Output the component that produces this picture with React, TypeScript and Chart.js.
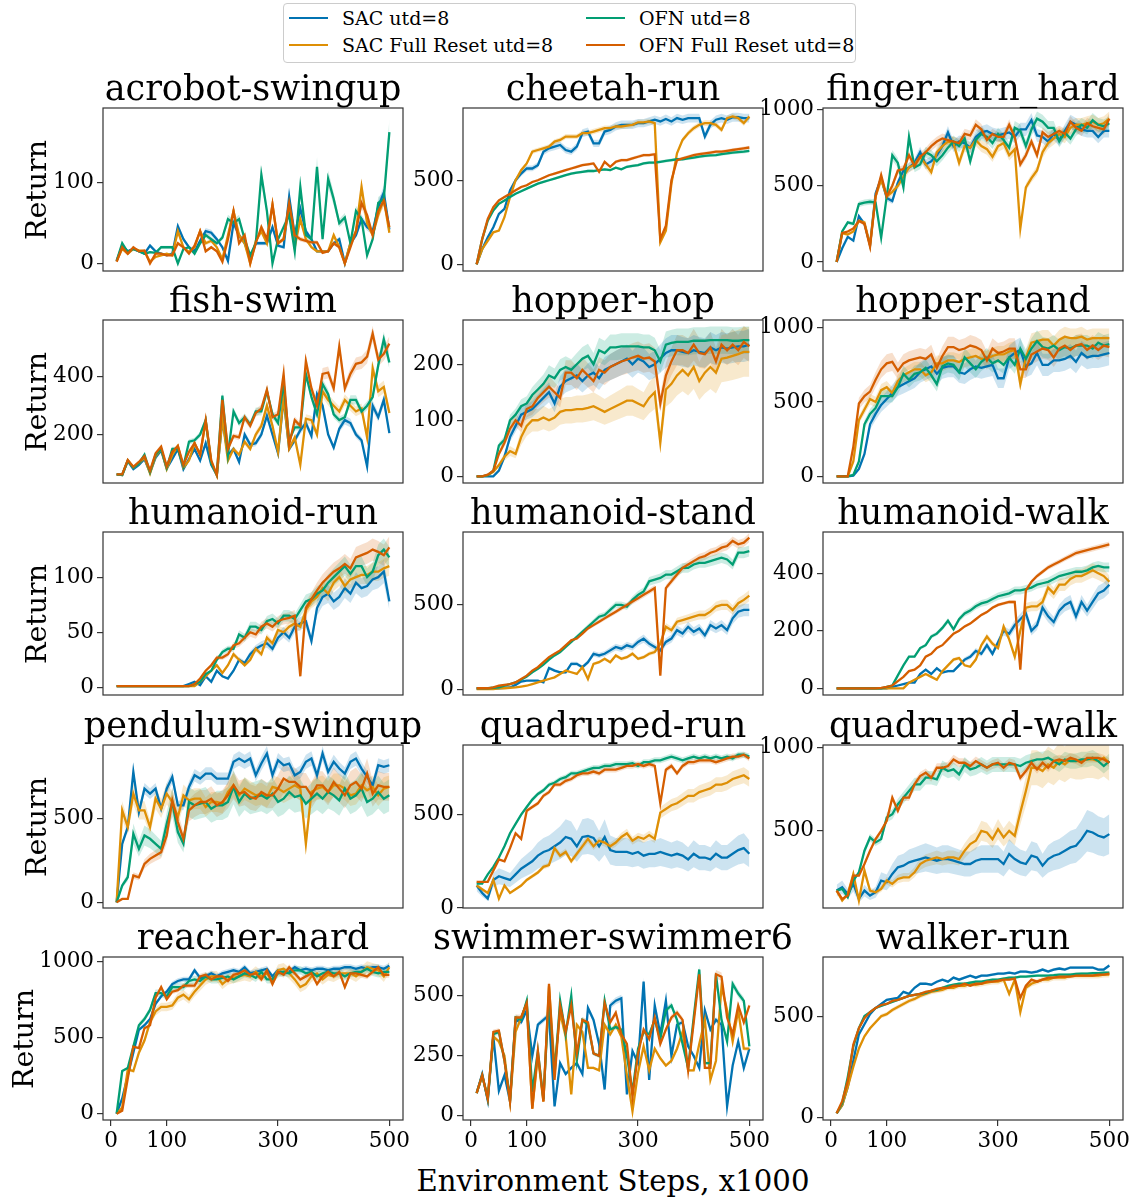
import React, { useEffect, useRef } from "react";
import { Chart, registerables } from "chart.js";
Chart.register(...registerables);

// ---------- data ----------
const STEPS = [10,20,30,40,50,60,70,80,90,100,110,120,130,140,150,160,170,180,190,200,210,220,230,240,250,260,270,280,290,300,310,320,330,340,350,360,370,380,390,400,410,420,430,440,450,460,470,480,490,500];
const X_TICKS = [0, 100, 300, 500];
const SERIES_LABELS = ["SAC utd=8", "SAC Full Reset utd=8", "OFN utd=8", "OFN Full Reset utd=8"];

const acrobotSAC = [3,22,15,18,15,12,22,15,12,10, 12,46,30,20,15,28,40,38,30,20, 3,50,35,25,5,25,25,25,45,22, 20,83,35,68,40,30,15,15,15,25, 30,0,25,35,55,45,40,70,88,42];
const acrobotSACReset = [3,18,12,18,16,15,2,8,10,12, 10,40,20,14,20,40,25,28,20,5, 35,65,35,25,0,28,40,25,73,25, 30,70,20,55,30,20,15,15,15,35, 20,0,25,40,95,50,35,60,80,38];
const acrobotOFN = [3,25,14,18,15,12,14,13,20,20, 20,0,18,20,12,25,35,30,25,32, 55,50,55,30,10,25,110,65,0,30, 45,60,15,95,35,30,120,30,105,80, 50,57,25,65,55,10,30,75,80,163];
const acrobotOFNReset = [2,20,12,20,15,16,0,12,12,10, 10,25,20,12,22,40,15,20,15,2, 30,65,25,35,0,25,45,30,73,25, 30,75,35,30,28,26,26,13,15,25, 20,0,20,40,75,60,35,65,78,45];

const cheetahSAC = [0,90,160,220,300,330,440,500,540,570, 570,590,670,690,700,710,680,670,700,780, 790,720,720,790,800,820,830,830,830,840, 840,850,860,850,865,850,870,860,870,870, 870,760,830,860,870,860,875,875,870,870];
const cheetahSACReset = [0,90,140,190,200,280,400,500,560,600, 670,680,690,700,730,740,760,760,760,780, 780,790,800,810,810,820,820,825,830,845, 845,850,840,130,200,480,660,740,780,810, 830,840,840,830,800,870,880,870,840,880];
const cheetahOFN = [0,150,260,320,360,380,400,420,435,450, 465,480,490,500,510,520,530,540,545,550, 555,555,560,565,560,575,565,580,585,590, 600,605,605,610,615,620,625,625,630,635, 640,645,648,650,655,660,665,668,670,675];
const cheetahOFNReset = [0,150,270,340,380,400,420,440,460,470, 490,500,515,530,540,550,560,570,580,590, 595,600,550,610,580,610,620,620,630,640, 650,650,655,150,230,500,620,630,640,650, 655,660,665,670,670,675,680,685,690,695];

const fingerSAC = [0,90,165,140,300,250,110,450,550,420, 400,520,600,620,650,720,640,660,700,760, 850,760,790,780,750,820,850,860,840,830, 840,850,820,870,870,930,830,820,790,840, 800,860,920,900,870,860,860,820,860,860];
const fingerSACReset = [0,190,180,200,270,260,110,430,540,430, 460,500,560,620,640,690,640,590,720,760, 790,780,650,760,750,800,760,740,690,760, 780,700,740,220,490,550,600,720,780,810, 840,820,880,900,900,910,920,900,910,940];
const fingerOFN = [0,200,260,250,380,390,395,390,160,430, 700,650,490,820,620,640,720,700,660,700, 750,790,760,810,660,800,840,820,780,840, 800,750,880,860,760,870,940,920,880,880, 790,850,810,870,900,880,930,900,890,910];
const fingerOFNReset = [0,190,200,220,270,250,100,430,570,430, 500,600,610,700,630,690,720,760,790,810, 800,790,780,840,830,900,870,800,840,820, 820,900,820,640,700,790,700,850,820,840, 860,840,920,880,860,910,890,880,870,940];

const fishSAC = [62,60,108,80,95,115,68,120,145,82, 115,150,80,115,150,110,170,95,60,250, 130,150,105,200,165,170,200,265,200,135, 325,150,180,215,240,195,340,300,200,155, 220,250,240,200,180,90,300,260,320,205];
const fishSACReset = [62,60,110,85,100,120,65,125,150,80, 130,160,85,110,170,130,245,105,58,255, 110,150,130,175,150,200,230,300,230,140, 330,150,190,95,255,250,200,350,320,300, 280,320,300,280,290,190,430,350,365,275];
const fishOFN = [62,60,110,85,100,130,70,130,150,85, 150,150,90,175,180,200,250,100,60,335, 130,280,240,260,235,280,280,350,270,240, 380,180,225,225,410,330,270,375,340,270, 250,260,320,320,280,300,330,440,530,450];
const fishOFNReset = [62,62,112,88,105,125,75,135,158,90, 140,160,95,140,170,130,250,110,60,320, 150,195,190,260,230,275,290,355,260,270, 410,165,250,230,455,360,300,410,415,360, 505,360,410,445,450,470,550,460,480,515];

const hopHopSAC = [0,0,0,0,10,35,70,90,110,115, 120,130,140,150,130,160,170,175,180,170, 180,185,175,190,195,200,205,210,200,210, 205,195,200,210,220,225,225,222,220,225, 222,220,230,225,230,228,230,232,232,235];
const hopHopSACReset = [0,0,2,8,20,35,45,40,70,90, 100,100,105,100,105,115,118,118,120,120, 122,125,120,115,120,125,130,135,135,130, 125,140,150,60,155,165,180,190,180,195, 170,185,195,185,210,212,215,218,222,222];
const hopHopOFN = [0,0,2,10,55,65,100,110,125,130, 145,155,165,180,175,190,195,190,200,210, 215,200,225,220,230,230,232,232,232,232, 230,230,225,205,235,238,240,240,240,242, 242,242,243,243,243,243,242,242,243,243];
const hopHopOFNReset = [0,0,3,10,40,60,85,100,90,120, 125,140,150,160,150,140,185,185,175,190, 180,170,190,185,195,200,205,208,212,215, 210,212,205,130,180,205,225,225,220,235, 220,218,230,205,235,225,235,225,240,232];

const hopStandSAC = [0,0,0,5,50,150,350,420,480,520, 560,600,620,640,660,700,720,740,690,730, 740,740,700,690,720,740,730,740,750,660, 660,800,830,850,740,760,830,750,750,780, 780,790,810,770,830,800,810,810,820,830];
const hopStandSACReset = [0,0,0,100,380,450,520,500,580,600, 560,640,680,700,720,720,680,700,760,760, 780,780,770,790,800,810,790,790,810,820, 820,840,850,620,800,900,910,920,920,880, 920,940,930,930,940,920,930,930,930,930];
const hopStandOFN = [0,0,0,10,100,350,420,460,540,540, 540,600,690,650,690,700,730,680,620,740, 760,750,700,800,760,720,770,800,760,780, 750,800,750,860,790,860,910,870,860,880, 850,870,860,880,880,880,860,900,880,890];
const hopStandOFNReset = [0,0,0,200,490,540,570,650,720,760, 770,710,760,780,790,800,790,820,730,810, 870,870,850,860,880,870,850,780,860,830, 840,860,860,720,720,820,840,860,850,800, 860,880,850,880,890,850,880,850,880,870];

const humRunSAC = [1,1,1,1,1,1,1,1,1,1, 1,1,1,3,5,2,10,5,15,10, 8,15,25,22,30,35,38,40,35,45, 50,45,55,58,60,42,72,82,85,78, 82,90,85,95,90,92,98,100,105,78];
const humRunSACReset = [1,1,1,1,1,1,1,1,1,1, 1,1,1,1,1,5,10,15,20,13, 20,30,25,20,25,35,30,45,40,52, 50,55,58,55,70,78,82,90,85,95, 100,92,98,100,102,102,105,105,108,110];
const humRunOFN = [1,1,1,1,1,1,1,1,1,1, 1,1,1,1,3,5,12,15,25,32, 35,35,48,45,55,55,52,60,62,58, 65,65,62,70,78,80,85,88,95,100, 105,110,103,110,110,100,105,120,125,118];
const humRunOFNReset = [1,1,1,1,1,1,1,1,1,1, 1,1,1,1,3,8,15,20,27,27, 30,38,40,45,50,48,55,58,55,60, 62,63,65,10,72,80,88,95,100,105, 108,112,108,118,120,122,125,123,120,127];

const humStandSAC = [5,5,5,5,5,8,10,25,45,50, 50,50,40,125,110,100,100,150,150,130, 160,210,200,210,230,250,240,260,250,280, 300,270,250,230,280,300,350,330,370,340, 360,320,380,360,380,350,420,460,470,470];
const humStandSACReset = [0,0,0,0,5,5,8,10,15,20, 30,40,50,60,70,90,110,100,90,130, 60,150,160,180,160,200,180,190,210,180, 190,210,220,270,370,350,400,410,420,430, 440,440,460,490,500,500,470,510,530,555];
const humStandOFN = [5,5,5,8,10,20,30,40,55,75, 100,120,145,175,200,220,250,280,310,340, 370,400,430,440,470,500,500,490,530,560, 580,640,650,660,680,680,700,720,720,740, 750,750,760,770,780,770,740,810,810,820];
const humStandOFNReset = [5,5,5,10,20,25,30,40,60,80, 110,130,160,190,210,230,260,290,300,330, 360,380,400,420,440,460,480,500,520,540, 560,580,600,80,600,640,680,720,740,760, 780,790,810,820,840,850,880,860,870,900];

const humWalkSAC = [0,0,0,0,0,0,0,0,0,0, 5,10,15,20,20,50,65,50,70,55, 60,60,80,100,110,130,120,150,120,160, 200,190,220,240,260,200,220,280,250,230, 270,290,300,250,300,270,300,330,340,360];
const humWalkSACReset = [0,0,0,0,0,0,0,0,0,0, 0,0,0,20,30,40,50,40,30,60, 80,100,105,80,75,100,150,180,155,140, 215,170,110,200,280,285,285,300,350,330, 360,360,380,390,390,400,410,400,390,370];
const humWalkOFN = [0,0,0,0,0,0,0,0,0,5, 10,45,80,110,110,140,150,180,190,210, 235,205,240,260,270,285,295,300,310,320, 325,330,340,340,345,350,360,365,370,380, 390,395,400,405,405,410,420,425,420,420];
const humWalkOFNReset = [0,0,0,0,0,0,0,0,2,5, 10,25,40,60,65,80,110,120,140,150, 170,190,200,215,225,240,255,265,280,290, 295,300,300,65,340,370,390,405,420,430, 440,450,460,470,475,480,485,490,495,500];

const pendSAC = [0,350,450,780,540,680,650,680,560,680, 750,580,580,690,760,740,770,770,740,740, 740,840,860,840,860,760,830,890,760,850, 820,830,760,780,840,860,760,890,780,840, 800,770,840,860,800,750,700,820,810,820];
const pendSACReset = [0,550,450,650,550,550,450,620,560,650, 600,510,640,610,620,620,570,600,600,590, 660,700,640,680,660,640,650,630,690,680, 660,680,700,680,350,660,680,690,660,700, 700,680,640,650,700,670,690,640,680,690];
const pendOFN = [0,100,150,410,320,400,380,350,320,470, 600,420,350,600,580,590,600,560,580,580, 600,690,600,650,620,630,640,620,650,600, 620,660,630,640,590,620,650,620,660,640, 610,680,620,640,680,600,620,660,620,640];
const pendOFNReset = [0,20,20,160,150,230,260,280,300,400, 610,480,380,550,580,600,600,620,580,600, 640,700,650,660,630,620,660,640,640,680, 740,720,720,690,690,640,700,700,660,720, 680,640,700,720,680,770,650,700,690,690];

const quadRunSAC = [120,80,50,150,170,160,150,180,210,230, 250,280,300,310,330,350,380,370,330,380, 385,375,330,380,310,300,300,300,290,300, 280,290,290,300,290,280,290,280,260,290, 270,270,260,290,270,270,290,310,320,290];
const quadRunSACReset = [120,100,80,150,50,120,80,100,120,150, 170,190,220,230,320,280,300,250,290,330, 370,330,360,350,330,350,380,400,360,380, 370,390,370,510,530,550,560,580,600,600, 620,630,640,660,660,670,690,700,710,690];
const quadRunOFN = [130,130,180,220,270,330,400,450,500,540, 580,610,630,660,670,690,700,720,720,730, 740,750,750,760,760,770,770,770,775,760, 780,780,790,790,800,810,800,790,800,810, 800,810,800,810,800,810,800,820,820,810];
const quadRunOFNReset = [140,140,140,200,260,250,320,400,370,520, 540,560,600,620,660,660,680,690,710,720, 720,730,720,740,740,740,750,760,760,770, 760,770,760,560,740,760,720,760,780,780, 790,790,790,780,790,800,810,810,820,800];

const quadWalkSAC = [140,160,120,180,90,140,110,130,200,190, 240,280,290,310,320,330,340,330,320,330, 330,320,310,300,300,320,330,330,330,330, 300,360,330,310,300,350,340,290,330,350, 360,380,400,410,450,500,490,470,460,480];
const quadWalkSACReset = [140,80,120,240,80,260,140,130,150,200, 180,210,220,220,250,300,320,330,340,330, 340,340,330,380,420,440,500,490,450,510, 460,500,470,610,740,880,880,860,900,880, 920,900,930,920,920,930,930,920,940,910];
const quadWalkOFN = [140,150,100,200,250,380,460,430,450,580, 600,660,700,740,780,780,820,820,810,880, 860,870,840,900,870,880,900,880,900,900, 900,900,900,890,910,920,930,930,940,920, 900,930,920,920,930,930,940,920,890,920];
const quadWalkOFNReset = [140,90,110,230,230,300,380,450,500,560, 700,620,700,700,780,830,850,820,880,880, 890,930,910,910,890,920,900,880,900,910, 880,910,900,820,860,910,870,910,880,920, 930,920,940,930,910,940,940,940,930,910];

const reacherSAC = [0,100,250,400,550,580,620,720,770,800, 850,870,880,880,940,890,900,920,900,920, 930,940,930,960,920,930,940,950,900,940, 920,930,960,940,950,940,950,950,940,950, 950,960,960,950,960,950,960,960,950,970];
const reacherSACReset = [0,40,290,280,400,480,600,670,700,700, 710,760,780,750,800,840,880,900,900,850, 880,890,900,910,900,930,900,920,870,940, 950,920,880,830,850,900,920,880,910,900, 920,920,920,900,930,960,950,940,900,960];
const reacherOFN = [0,280,300,440,580,620,680,790,790,770, 830,830,830,870,880,870,900,880,880,890, 900,880,900,920,910,890,930,880,880,920, 930,920,940,940,920,930,900,920,930,920, 920,900,920,930,930,950,930,920,930,930];
const reacherOFNReset = [0,20,230,440,430,560,580,760,830,750, 800,810,840,840,840,900,910,880,900,900, 870,910,920,940,910,920,880,940,850,930, 910,960,920,880,900,920,850,900,930,900, 930,830,920,920,910,900,930,960,910,910];

const swimmerSAC = [95,175,65,330,105,170,60,400,390,440, 250,380,400,420,40,220,175,200,220,175, 450,400,300,110,460,480,490,90,270,220, 560,150,460,340,480,250,380,390,290,250, 200,440,360,400,380,40,210,310,200,280];
const swimmerSACReset = [95,165,80,330,310,250,60,350,410,470, 30,250,60,540,200,430,330,90,380,350, 200,200,190,380,340,380,330,170,20,180, 290,190,280,240,210,230,280,350,190,190, 300,400,150,230,540,440,310,440,280,280];
const swimmerOFN = [95,170,70,340,350,230,70,410,400,480, 100,270,70,500,170,480,340,500,230,400, 380,260,250,480,360,370,360,250,100,280, 350,340,400,320,440,460,400,300,200,410, 610,220,220,590,400,310,550,510,480,290];
const swimmerOFNReset = [95,170,70,350,355,230,60,410,410,470, 30,270,60,550,150,460,350,460,260,400, 390,260,250,470,390,430,340,300,80,260, 360,320,410,300,360,410,430,400,190,390, 590,200,200,590,580,410,340,460,390,460];

const walkerSAC = [20,60,150,280,410,460,510,540,560,580, 585,590,620,610,640,660,660,655,670,680, 670,690,680,690,700,690,700,700,705,710, 710,715,710,720,720,715,720,730,720,730, 735,730,740,740,740,740,740,730,730,750];
const walkerSACReset = [20,60,150,250,340,400,440,470,500,510, 530,545,560,575,585,600,610,620,625,630, 640,640,650,650,660,655,660,665,670,670, 680,610,680,520,640,660,670,680,680,690, 690,690,700,700,700,700,700,700,705,705];
const walkerOFN = [20,70,200,350,440,500,520,540,550,560, 570,580,590,600,605,610,615,625,630,640, 650,655,660,660,665,670,670,675,680,680, 685,690,690,695,695,698,700,700,700,702, 705,705,705,708,710,710,712,712,715,715];
const walkerOFNReset = [20,80,180,360,440,490,520,540,555,560, 575,580,590,600,605,610,620,625,635,640, 640,650,650,660,650,660,660,670,670,675, 680,680,685,590,650,680,670,680,690,690, 695,695,695,700,700,700,700,705,705,710];

// relative spread (std / mean) for the shaded bands: SAC, SAC reset, OFN, OFN reset
const acrobotSpread = [0.1, 0.1, 0.1, 0.1];
const cheetahSpread = [0.03, 0.02, 0.015, 0.015];
const fingerSpread = [0.05, 0.05, 0.05, 0.04];
const fishSpread = [0.06, 0.06, 0.05, 0.05];
const hopHopSpread = [0.12, 0.2, 0.1, 0.12];
const hopStandSpread = [0.1, 0.07, 0.08, 0.08];
const humRunSpread = [0.1, 0.08, 0.08, 0.08];
const humStandSpread = [0.08, 0.06, 0.04, 0.03];
const humWalkSpread = [0.08, 0.06, 0.04, 0.02];
const pendSpread = [0.05, 0.1, 0.15, 0.12];
const quadRunSpread = [0.25, 0.06, 0.02, 0.02];
const quadWalkSpread = [0.25, 0.12, 0.05, 0.03];
const reacherSpread = [0.02, 0.04, 0.03, 0.02];
const swimmerSpread = [0.03, 0.03, 0.03, 0.03];
const walkerSpread = [0.01, 0.02, 0.01, 0.01];

type PanelCfg = {
  title: string; row: number; col: number;
  ymin: number; ymax: number; yticks: number[];
  series: number[][]; spread: number[];
};

const PANELS: PanelCfg[] = [
  { title: "acrobot-swingup", row: 0, col: 0, ymin: -9.5, ymax: 193, yticks: [0, 100], series: [acrobotSAC, acrobotSACReset, acrobotOFN, acrobotOFNReset], spread: acrobotSpread },
  { title: "cheetah-run", row: 0, col: 1, ymin: -40, ymax: 930, yticks: [0, 500], series: [cheetahSAC, cheetahSACReset, cheetahOFN, cheetahOFNReset], spread: cheetahSpread },
  { title: "finger-turn_hard", row: 0, col: 2, ymin: -59, ymax: 1010, yticks: [0, 500, 1000], series: [fingerSAC, fingerSACReset, fingerOFN, fingerOFNReset], spread: fingerSpread },
  { title: "fish-swim", row: 1, col: 0, ymin: 32, ymax: 597, yticks: [200, 400], series: [fishSAC, fishSACReset, fishOFN, fishOFNReset], spread: fishSpread },
  { title: "hopper-hop", row: 1, col: 1, ymin: -12, ymax: 279, yticks: [0, 100, 200], series: [hopHopSAC, hopHopSACReset, hopHopOFN, hopHopOFNReset], spread: hopHopSpread },
  { title: "hopper-stand", row: 1, col: 2, ymin: -45, ymax: 1052, yticks: [0, 500, 1000], series: [hopStandSAC, hopStandSACReset, hopStandOFN, hopStandOFNReset], spread: hopStandSpread },
  { title: "humanoid-run", row: 2, col: 0, ymin: -7, ymax: 141, yticks: [0, 50, 100], series: [humRunSAC, humRunSACReset, humRunOFN, humRunOFNReset], spread: humRunSpread },
  { title: "humanoid-stand", row: 2, col: 1, ymin: -35, ymax: 933, yticks: [0, 500], series: [humStandSAC, humStandSACReset, humStandOFN, humStandOFNReset], spread: humStandSpread },
  { title: "humanoid-walk", row: 2, col: 2, ymin: -23, ymax: 543, yticks: [0, 200, 400], series: [humWalkSAC, humWalkSACReset, humWalkOFN, humWalkOFNReset], spread: humWalkSpread },
  { title: "pendulum-swingup", row: 3, col: 0, ymin: -34, ymax: 941, yticks: [0, 500], series: [pendSAC, pendSACReset, pendOFN, pendOFNReset], spread: pendSpread },
  { title: "quadruped-run", row: 3, col: 1, ymin: 0, ymax: 872, yticks: [0, 500], series: [quadRunSAC, quadRunSACReset, quadRunOFN, quadRunOFNReset], spread: quadRunSpread },
  { title: "quadruped-walk", row: 3, col: 2, ymin: 35, ymax: 1017, yticks: [500, 1000], series: [quadWalkSAC, quadWalkSACReset, quadWalkOFN, quadWalkOFNReset], spread: quadWalkSpread },
  { title: "reacher-hard", row: 4, col: 0, ymin: -41, ymax: 1027, yticks: [0, 500, 1000], series: [reacherSAC, reacherSACReset, reacherOFN, reacherOFNReset], spread: reacherSpread },
  { title: "swimmer-swimmer6", row: 4, col: 1, ymin: -17, ymax: 662, yticks: [0, 250, 500], series: [swimmerSAC, swimmerSACReset, swimmerOFN, swimmerOFNReset], spread: swimmerSpread },
  { title: "walker-run", row: 4, col: 2, ymin: -13, ymax: 792, yticks: [0, 500], series: [walkerSAC, walkerSACReset, walkerOFN, walkerOFNReset], spread: walkerSpread },
];

// ---------- styling / layout ----------
const COLORS = ["#0173b2", "#de8f05", "#029e73", "#d55e00"];
const FONT = '"DejaVu Serif", serif';
const PLOT_L = [103, 463, 823];
const PLOT_T = [108, 320, 532, 745, 957];
const PW = 300, PH = 163;
const PADL = 72, PADR = 30, PADT = 16;

function rgba(hex: string, a: number) {
  const n = parseInt(hex.slice(1), 16);
  return `rgba(${(n >> 16) & 255},${(n >> 8) & 255},${n & 255},${a})`;
}

const framePlugin = {
  id: "frame",
  afterDatasetsDraw(chart: any) {
    const { ctx, chartArea: a } = chart;
    ctx.save();
    ctx.strokeStyle = "#333";
    ctx.lineWidth = 1.2;
    ctx.strokeRect(a.left, a.top, a.right - a.left, a.bottom - a.top);
    ctx.restore();
  },
};

function Panel({ cfg }: { cfg: PanelCfg }) {
  const ref = useRef<HTMLCanvasElement | null>(null);
  const bottom = cfg.row === 4;
  const padB = bottom ? 44 : 14;
  const cw = PADL + PW + PADR;
  const ch = PADT + PH + padB;

  useEffect(() => {
    if (!ref.current) return;
    const datasets: any[] = [];
    cfg.series.forEach((vals, s) => {
      const f = cfg.spread[s];
      datasets.push({
        data: STEPS.map((x, i) => ({ x, y: vals[i] * (1 - f) })),
        borderWidth: 0, borderColor: "rgba(0,0,0,0)", pointRadius: 0, fill: false, order: 20 + s,
      });
      datasets.push({
        data: STEPS.map((x, i) => ({ x, y: vals[i] * (1 + f) })),
        borderWidth: 0, borderColor: "rgba(0,0,0,0)", pointRadius: 0, fill: "-1",
        backgroundColor: rgba(COLORS[s], 0.2), order: 20 + s,
      });
    });
    cfg.series.forEach((vals, s) => {
      datasets.push({
        label: SERIES_LABELS[s],
        data: STEPS.map((x, i) => ({ x, y: vals[i] })),
        borderColor: COLORS[s], borderWidth: 2.3, pointRadius: 0, fill: false,
        tension: 0, order: 4 - s,
      });
    });
    const tickFont = { family: FONT, size: 21.5 };
    const chart = new Chart(ref.current, {
      type: "line",
      data: { datasets },
      plugins: [framePlugin],
      options: {
        animation: false,
        responsive: false,
        events: [],
        layout: { padding: { top: PADT, right: PADR, left: 0, bottom: 0 } },
        plugins: { legend: { display: false }, tooltip: { enabled: false }, title: { display: false } },
        scales: {
          x: {
            type: "linear", min: -14.5, max: 524.5,
            afterBuildTicks: (sc: any) => { sc.ticks = X_TICKS.map((v) => ({ value: v })); },
            afterFit: (sc: any) => { sc.height = padB; sc.paddingLeft = 0; sc.paddingRight = 0; sc.paddingTop = 0; sc.paddingBottom = 0; },
            grid: { display: bottom, drawOnChartArea: false, drawTicks: bottom, tickLength: 6, color: "#333", lineWidth: 1.2 },
            border: { display: false },
            ticks: { display: bottom, font: tickFont, color: "#000", padding: 3, maxRotation: 0, autoSkip: false, callback: (v: any) => String(v) },
          },
          y: {
            type: "linear", min: cfg.ymin, max: cfg.ymax,
            afterBuildTicks: (sc: any) => { sc.ticks = cfg.yticks.map((v) => ({ value: v })); },
            afterFit: (sc: any) => { sc.width = PADL; sc.paddingTop = 0; sc.paddingBottom = 0; sc.paddingLeft = 0; sc.paddingRight = 0; },
            grid: { display: true, drawOnChartArea: false, drawTicks: true, tickLength: 6, color: "#333", lineWidth: 1.2 },
            border: { display: false },
            ticks: { font: tickFont, color: "#000", padding: 3, autoSkip: false, callback: (v: any) => String(v) },
          },
        },
      } as any,
    });
    return () => chart.destroy();
  }, [cfg]);

  return (
    <canvas
      ref={ref}
      width={cw}
      height={ch}
      style={{ position: "absolute", left: PLOT_L[cfg.col] - PADL, top: PLOT_T[cfg.row] - PADT, width: cw, height: ch }}
    />
  );
}

export default function App() {
  const text: React.CSSProperties = { position: "absolute", fontFamily: FONT, color: "#000", whiteSpace: "nowrap" };
  const legendRows = [18, 45];
  const legendCols = [{ h: 289, t: 342 }, { h: 586, t: 639 }];
  return (
    <div style={{ position: "absolute", left: 0, top: 0, width: 1136, height: 1201, background: "#fff", overflow: "hidden" }}>
      {PANELS.map((p) => <Panel key={p.title} cfg={p} />)}
      {PANELS.map((p) => (
        <div key={"t" + p.title} style={{ ...text, left: PLOT_L[p.col] + PW / 2 - 250, width: 500, textAlign: "center", top: PLOT_T[p.row] - 38, fontSize: 35, lineHeight: "36px" }}>
          {p.title}
        </div>
      ))}
      {PLOT_T.map((t, r) => (
        <div key={"r" + r} style={{ ...text, left: (r === 4 ? 24 : 37) - 100, top: t + PH / 2 - 16, width: 200, height: 32, lineHeight: "32px", textAlign: "center", fontSize: 28.5, transform: "rotate(-90deg)" }}>
          Return
        </div>
      ))}
      <div style={{ ...text, left: 613 - 300, width: 600, textAlign: "center", top: 1165, fontSize: 29.2, lineHeight: "32px" }}>
        Environment Steps, x1000
      </div>
      <div style={{ position: "absolute", left: 283, top: 3, width: 571, height: 58, border: "1px solid #cccccc", borderRadius: 4, background: "rgba(255,255,255,0.8)" }} />
      {SERIES_LABELS.map((lab, i) => {
        const c = legendCols[Math.floor(i / 2)];
        const y = legendRows[i % 2];
        return (
          <React.Fragment key={lab}>
            <div style={{ position: "absolute", left: c.h, top: y - 1.25, width: 39, height: 2.5, background: COLORS[i] }} />
            <div style={{ ...text, left: c.t, top: y - 11, fontSize: 19, lineHeight: "22px" }}>{lab}</div>
          </React.Fragment>
        );
      })}
    </div>
  );
}
